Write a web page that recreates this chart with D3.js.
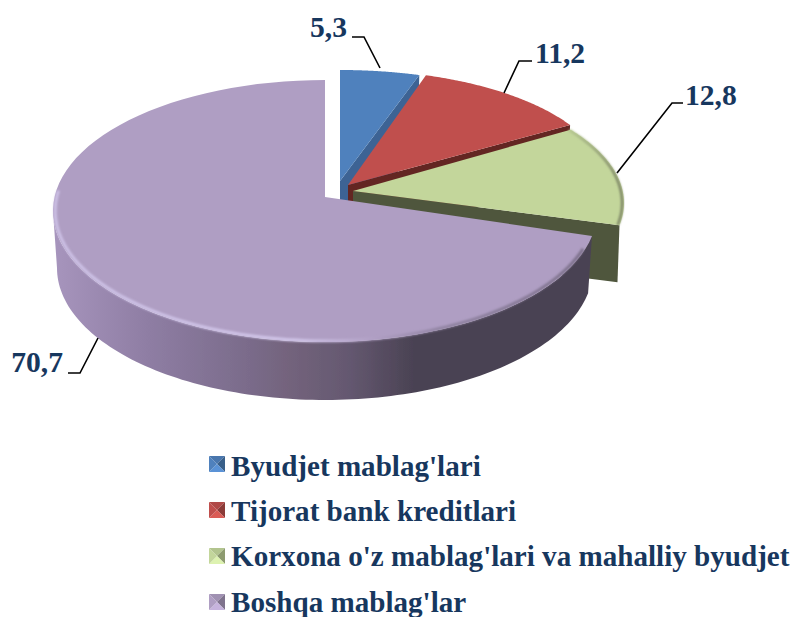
<!DOCTYPE html>
<html><head><meta charset="utf-8">
<script src="https://cdnjs.cloudflare.com/ajax/libs/d3/7.8.5/d3.min.js"></script>
<style>html,body{margin:0;padding:0;background:#fff}svg{display:block}
text{font-family:"Liberation Serif",serif;font-weight:bold;fill:#17375e}</style>
</head><body><svg id="c" width="795" height="617"></svg>
<script>
const categories=["Byudjet mablag'lari","Tijorat bank kreditlari","Korxona o'z mablag'lari va mahalliy byudjet","Boshqa mablag'lar"];
const values=[5.3,11.2,12.8,70.7];
const valueLabels=["5,3","11,2","12,8","70,7"];
const topColors=["#4f81bd","#c0504d","#c3d69b","#af9ec3"];
const wallColors=["#3c6494","#632523","#50563c","#4c4358"];
// per-slice projection of the tilted disc
const geo=[
 {cx:340,cy:181,rx:270,ry:114,k:3,s0:0,s1:-2},
 {cx:348,cy:185,rx:258,ry:112,k:-3,s0:-1.5,s1:0},
 {cx:353,cy:191,rx:271,ry:123,k:12,s0:-6,s1:-5},
 {cx:325,cy:197,rx:272,ry:131,k:14,s0:-4.5,s1:0}
];
const depth=[70,57,57,0];
const labelPos=[[347,37,"end"],[535,63,"start"],[685,105,"start"],[63,372,"end"]];
const leaders=[[[352,37],[364,37],[380,68]],[[504,93],[519,61],[532,61]],[[617,173],[672,103],[683,103]],[[98,338],[80,373],[68,373]]];
const legendY=[476,521,566,612];
const markerY=[456,502,548,594];

const svg=d3.select("#c");
const defs=svg.append("defs");
const blur=defs.append("filter").attr("id","b").attr("x","-5%").attr("y","-5%").attr("width","110%").attr("height","110%");
blur.append("feGaussianBlur").attr("stdDeviation",0.5);
const blur2=defs.append("filter").attr("id","b2").attr("x","-5%").attr("y","-5%").attr("width","110%").attr("height","110%");
blur2.append("feGaussianBlur").attr("stdDeviation",1.1);

const grad=(id,x1,x2,stops)=>{
  const g=defs.append("linearGradient").attr("id",id).attr("gradientUnits","userSpaceOnUse").attr("x1",x1).attr("x2",x2).attr("y1",0).attr("y2",0);
  stops.forEach(s=>g.append("stop").attr("offset",s[0]).attr("stop-color",s[1]));
};
grad("wall",53,592,[[0,"#a795bd"],[.18,"#8e7da3"],[.365,"#7a6b8a"],[.44,"#73637c"],[.55,"#645870"],[.67,"#4a4253"],[1,"#4a4253"]]);
grad("rimP",53,592,[[0,"#cdc1e6"],[.45,"#d2c7ea"],[.6,"#af9ec3"],[.72,"#8f82a0"],[1,"#7a6e88"]]);
grad("rimG",353,625,[[0,"#c3d69b"],[.75,"#c3d69b"],[1,"#767d60"]]);

const pie=d3.pie().sort(null).value(d=>d).startAngle(0).endAngle(2*Math.PI);
const arcs=pie(values);
const pt=(g,a,r=1)=>[g.cx+r*g.rx*Math.sin(a), g.cy+r*(g.k-g.ry*Math.cos(a))];
const line=d3.line();
const deg=Math.PI/180;
const sweep=(g,a0,a1,n=90)=>d3.range(n+1).map(i=>pt(g,a0+(a1-a0)*i/n));

arcs.forEach((d,i)=>{
  const g=geo[i];
  const a0=d.startAngle+g.s0*deg,a1=d.endAngle+g.s1*deg;
  const apex=[g.cx,g.cy];
  const gr=svg.append("g").attr("filter","url(#b)");
  if(i<3){
    const e=pt(g,a1);
    gr.append("path").attr("d",line([apex,e,[e[0]-2,e[1]+depth[i]],[apex[0],apex[1]+depth[i]]])+"Z").attr("fill",wallColors[i]);
  } else {
    const bp=a=>[325+268*Math.sin(a),268-132*Math.cos(a)];
    const top=sweep(g,a0,1.5*Math.PI,120);
    const bot=d3.range(121).map(j=>bp(1.5*Math.PI+(a0-1.5*Math.PI)*j/120));
    gr.append("path").attr("d",line(top.concat(bot))+"Z").attr("fill","url(#wall)");
  }
  gr.append("path").attr("d",line([apex].concat(sweep(g,a0,a1)))+"Z").attr("fill",topColors[i]);
  if(i==3){
    const a2=a0+6*deg;
    const pts=d3.range(101).map(j=>pt(g,a2+(1.55*Math.PI-a2)*j/100,0.992));
    svg.append("path").attr("d",line(pts)).attr("fill","none").attr("stroke","url(#rimP)").attr("stroke-width",3).attr("filter","url(#b2)");
  }
  if(i==2){
    const pts=d3.range(41).map(j=>pt(g,a0+(a1-a0)*j/40,0.993));
    svg.append("path").attr("d",line(pts)).attr("fill","none").attr("stroke","url(#rimG)").attr("stroke-width",2.5).attr("filter","url(#b2)");
  }
});

svg.selectAll("path.leader").data(leaders).join("path").attr("class","leader")
 .attr("d",d=>line(d)).attr("fill","none").attr("stroke","#000").attr("stroke-width",1.6);

svg.selectAll("text.val").data(valueLabels).join("text").attr("class","val")
 .attr("x",(d,i)=>labelPos[i][0]).attr("y",(d,i)=>labelPos[i][1]).attr("text-anchor",(d,i)=>labelPos[i][2])
 .attr("font-size",29.6).text(d=>d);

const ms=16;
categories.forEach((c,i)=>{
  const x=209,y=markerY[i];
  const base=d3.color(topColors[i]);
  const cxm=x+ms/2,cym=y+ms/2;
  const tris=[
    [[x,y],[x+ms,y],[cxm,cym],base.darker(0.25)],
    [[x+ms,y],[x+ms,y+ms],[cxm,cym],base.darker(0.9)],
    [[x+ms,y+ms],[x,y+ms],[cxm,cym],base.brighter(0.35)],
    [[x,y+ms],[x,y],[cxm,cym],base]
  ];
  const m=svg.append("g").attr("filter","url(#b)");
  tris.forEach(t=>m.append("path").attr("d",line(t.slice(0,3))+"Z").attr("fill",t[3]));
  svg.append("text").attr("x",231).attr("y",legendY[i]).attr("font-size",29.1).text(c);
});
</script></body></html>
